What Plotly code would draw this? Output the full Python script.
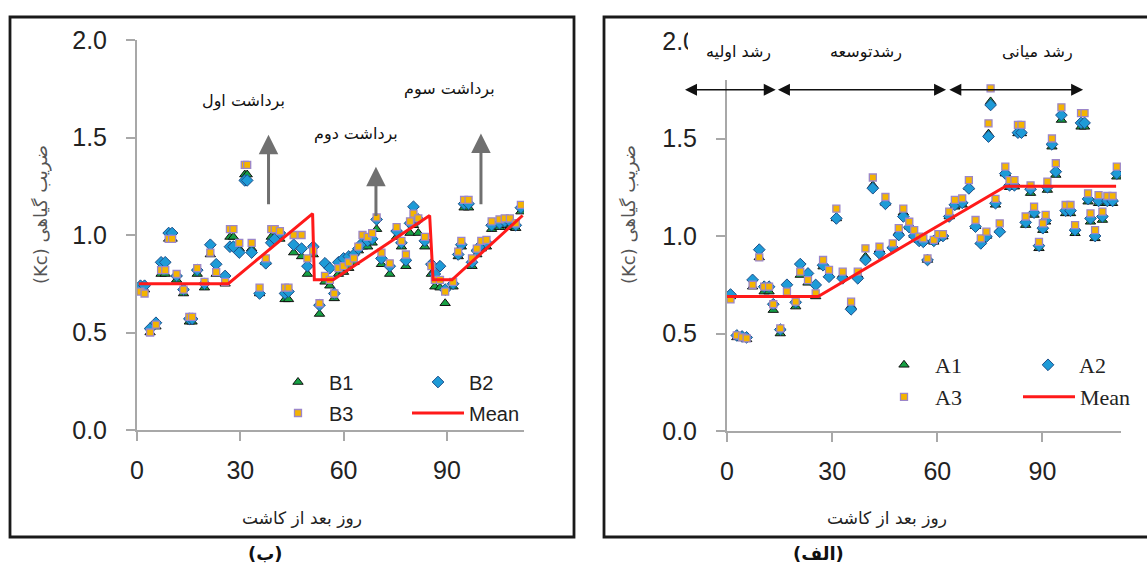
import plotly.graph_objects as go

W, H = 1147, 570


def px(x):
    return x / W


def py(y):
    return 1 - y / H


# ---------------- Left panel (ب) ----------------
left_days = [1, 2.2, 3.8, 5.5, 7, 8.2, 9.2, 10.2, 11.5, 13.5, 15.2, 16, 17.5, 19.6, 21.3, 23, 25.6,
             27, 28, 29.7, 31.3, 32, 33.3, 35.6, 37.4, 39, 40, 41.5, 43, 44, 45.5, 47.8, 49.5, 51.2,
             53, 54.6, 56, 57.3, 58.5, 60, 61.5, 63, 64.3, 65.5, 67, 68.3, 69.6, 71, 73.4, 75.4,
             76.8, 78.1, 79.3, 80.3, 81.7, 83.6, 85.5, 86.5, 88, 89.5, 91.8, 93.3, 94.2, 95, 96.3,
             97.3, 98.7, 100, 101.5, 103, 105.3, 106.8, 108.3, 110, 111.5]
b1 = [0.72, 0.72, 0.50, 0.53, 0.80, 0.80, 0.98, 0.98, 0.77, 0.70, 0.555, 0.555, 0.80, 0.73, 0.90, 0.80, 0.75,
      0.99, 0.99, 0.93, 1.31, 1.31, 0.93, 0.70, 0.86, 0.99, 0.99, 0.98, 0.67, 0.67, 0.91, 0.89, 0.80, 0.90,
      0.595, 0.76, 0.74, 0.675, 0.80, 0.81, 0.83, 0.86, 0.92, 0.94, 0.94, 0.96, 1.03, 0.85, 0.80, 0.99,
      0.94, 0.84, 1.01, 1.05, 1.01, 0.94, 0.80, 0.735, 0.73, 0.65, 0.735, 0.89, 0.94, 1.14, 1.14,
      0.84, 0.90, 0.93, 0.94, 1.03, 1.04, 1.05, 1.04, 1.035, 1.12]
b2 = [0.74, 0.74, 0.52, 0.55, 0.86, 0.86, 1.01, 1.01, 0.79, 0.72, 0.57, 0.57, 0.82, 0.75, 0.95, 0.85, 0.79,
      0.94, 0.94, 0.91, 1.28, 1.28, 0.91, 0.70, 0.855, 0.96, 0.98, 1.01, 0.70, 0.71, 0.95, 0.93, 0.84, 0.94,
      0.64, 0.855, 0.83, 0.70, 0.86, 0.88, 0.89, 0.90, 0.93, 0.96, 0.97, 0.98, 1.08, 0.88, 0.84, 1.02,
      0.96, 0.87, 1.06, 1.145, 1.08, 0.97, 0.85, 0.80, 0.84, 0.72, 0.75, 0.90, 0.95, 1.16, 1.16,
      0.86, 0.92, 0.95, 0.96, 1.05, 1.06, 1.07, 1.07, 1.05, 1.14]
b3 = [0.71, 0.70, 0.50, 0.54, 0.82, 0.82, 0.98, 0.98, 0.80, 0.72, 0.58, 0.58, 0.83, 0.76, 0.91, 0.81, 0.76,
      1.03, 1.03, 0.96, 1.36, 1.36, 0.96, 0.73, 0.88, 1.03, 1.03, 1.02, 0.73, 0.73, 1.00, 1.00, 0.88, 0.92,
      0.65, 0.79, 0.77, 0.70, 0.83, 0.84, 0.86, 0.88, 0.94, 1.00, 0.99, 1.01, 1.09, 0.91, 0.855, 1.04,
      0.97, 0.90, 1.07, 1.11, 1.085, 0.99, 0.84, 0.77, 0.77, 0.71, 0.76, 0.915, 0.97, 1.18, 1.18,
      0.88, 0.93, 0.97, 0.975, 1.07, 1.08, 1.085, 1.085, 1.06, 1.155]
mean_left_days = [0.5, 26.5, 51, 51.5, 57, 85, 86, 91.5, 112]
mean_left = [0.75, 0.75, 1.11, 0.77, 0.77, 1.10, 0.77, 0.77, 1.10]

# ---------------- Right panel (الف) ----------------
right_days = [1, 2.8, 4.3, 5.6, 7.3, 9.2, 10.6, 12, 13.2, 15.2, 17.1, 19.6, 20.9, 23.1, 25.3, 27.4, 29.1,
              31.2, 33, 35.4, 37.3, 39.5, 41.6, 43.5, 45.2, 47.3, 49, 50.3, 52, 53.4, 54.8, 56, 57.2,
              59, 60.3, 61.6, 63.4, 65, 67.1, 69, 70.9, 72.4, 74, 74.6, 75.2, 76.6, 77.8, 79.4, 80.6,
              82, 83, 84, 85.2, 86.6, 87.6, 89, 90.1, 90.9, 91.4, 92.7, 93.8, 95.4, 96.6, 98, 99.3,
              101, 102, 103, 103.7, 105, 106, 107.1, 108.5, 110, 111.2]
a1 = [0.69, 0.48, 0.475, 0.47, 0.74, 0.89, 0.715, 0.715, 0.62, 0.50, 0.697, 0.638, 0.80, 0.76, 0.69, 0.843, 0.80,
      1.09, 0.80, 0.64, 0.80, 0.894, 1.26, 0.93, 1.17, 0.95, 1.02, 1.12, 1.048, 1.005, 0.98, 0.975, 0.877,
      0.97, 0.99, 0.997, 1.10, 1.15, 1.16, 1.25, 1.05, 0.97, 1.0, 1.525, 1.69, 1.16, 1.03, 1.32, 1.25,
      1.253, 1.526, 1.526, 1.056, 1.22, 1.108, 0.937, 1.03, 1.073, 1.236, 1.458, 1.313, 1.595, 1.116, 1.116, 1.014,
      1.56, 1.56, 1.176, 1.073, 0.988, 1.168, 1.082, 1.168, 1.168, 1.304]
a2 = [0.70, 0.49, 0.485, 0.48, 0.775, 0.93, 0.74, 0.74, 0.65, 0.52, 0.75, 0.66, 0.856, 0.808, 0.749, 0.85, 0.791,
      1.09, 0.783, 0.624, 0.783, 0.877, 1.245, 0.911, 1.165, 0.94, 1.005, 1.10, 1.045, 1.0, 0.975, 0.97, 0.877,
      0.975, 0.995, 1.0, 1.10, 1.16, 1.17, 1.244, 1.048, 0.962, 0.997, 1.51, 1.672, 1.168, 1.022, 1.32, 1.26,
      1.26, 1.53, 1.53, 1.07, 1.24, 1.12, 0.95, 1.04, 1.08, 1.25, 1.47, 1.33, 1.62, 1.13, 1.13, 1.03,
      1.58, 1.58, 1.19, 1.09, 1.0, 1.18, 1.1, 1.18, 1.18, 1.32]
a3 = [0.675, 0.49, 0.48, 0.475, 0.75, 0.89, 0.74, 0.74, 0.65, 0.526, 0.715, 0.663, 0.817, 0.774, 0.706, 0.877, 0.826,
      1.14, 0.817, 0.663, 0.817, 0.937, 1.30, 0.945, 1.20, 0.962, 1.04, 1.14, 1.073, 1.03, 0.997, 0.988, 0.885,
      0.98, 1.01, 1.01, 1.125, 1.185, 1.193, 1.287, 1.082, 0.988, 1.022, 1.578, 1.757, 1.19, 1.065, 1.356, 1.287,
      1.287, 1.57, 1.57, 1.10, 1.26, 1.15, 0.97, 1.065, 1.108, 1.279, 1.50, 1.373, 1.66, 1.159, 1.159, 1.056,
      1.63, 1.63, 1.219, 1.116, 1.03, 1.21, 1.125, 1.205, 1.205, 1.356]
mean_right_days = [0, 26, 52, 79.5, 111]
mean_right = [0.69, 0.69, 0.965, 1.255, 1.255]

x_ticks = [0, 30, 60, 90]
y_ticks = [0, 0.5, 1.0, 1.5, 2.0]

TRI = dict(symbol="triangle-up", size=9, color="#16a043", line=dict(color="#111111", width=1))
DIA = dict(symbol="diamond", size=9, color="#1e9bd7", line=dict(color="#1d4e89", width=1))
SQR = dict(symbol="square", size=7, color="#f4b400", line=dict(color="#9c86c9", width=1.3))
MEAN = dict(color="#ff1a1a", width=3)

fig = go.Figure()
fig.add_trace(go.Scatter(x=left_days, y=b1, mode="markers", marker=TRI, name="B1",
                         xaxis="x", yaxis="y", legend="legend"))
fig.add_trace(go.Scatter(x=left_days, y=b2, mode="markers", marker=DIA, name="B2",
                         xaxis="x", yaxis="y", legend="legend2"))
fig.add_trace(go.Scatter(x=left_days, y=b3, mode="markers", marker=SQR, name="B3",
                         xaxis="x", yaxis="y", legend="legend3"))
fig.add_trace(go.Scatter(x=mean_left_days, y=mean_left, mode="lines", line=MEAN, name="Mean",
                         xaxis="x", yaxis="y", legend="legend4"))

fig.add_trace(go.Scatter(x=right_days, y=a1, mode="markers", marker=TRI, name="A1",
                         xaxis="x2", yaxis="y2", legend="legend5"))
fig.add_trace(go.Scatter(x=right_days, y=a2, mode="markers", marker=DIA, name="A2",
                         xaxis="x2", yaxis="y2", legend="legend6"))
fig.add_trace(go.Scatter(x=right_days, y=a3, mode="markers", marker=SQR, name="A3",
                         xaxis="x2", yaxis="y2", legend="legend7"))
fig.add_trace(go.Scatter(x=mean_right_days, y=mean_right, mode="lines", line=MEAN, name="Mean",
                         xaxis="x2", yaxis="y2", legend="legend8"))

axis_common = dict(showline=True, linecolor="#a8a8a8", linewidth=2, ticks="outside", ticklen=9,
                   tickwidth=2, tickcolor="#a8a8a8", showgrid=False, zeroline=False,
                   tickfont=dict(family="Liberation Sans", size=25, color="#222222"))

fig.update_layout(
    width=W, height=H, autosize=False, showlegend=True,
    margin=dict(l=0, r=0, t=0, b=0, autoexpand=False),
    paper_bgcolor="white", plot_bgcolor="white",
    xaxis=dict(domain=[px(137), px(524)], range=[0, 112.4], tickvals=x_ticks, anchor="y",
               ticklabelstandoff=8, **axis_common),
    yaxis=dict(domain=[py(430), py(40)], range=[0, 2], tickvals=y_ticks, tickformat=".1f",
               anchor="x", ticklabelstandoff=14, **axis_common),
    xaxis2=dict(domain=[px(727), px(1121)], range=[0, 112.4], tickvals=x_ticks, anchor="y2",
                ticklabelstandoff=8, **axis_common),
    yaxis2=dict(domain=[py(431), py(41)], range=[0, 2], tickvals=y_ticks, tickformat=".1f",
                anchor="x2", ticklabelstandoff=14, **axis_common),
)

sans_leg = dict(family="Liberation Sans", size=20, color="#222222")
serif_leg = dict(family="Liberation Serif", size=22, color="#222222")


def leg(xl, yc, font):
    return dict(x=px(xl), y=py(yc), xanchor="left", yanchor="middle", itemwidth=52,
                font=font, bgcolor="rgba(0,0,0,0)", borderwidth=0, visible=True)


fig.update_layout(
    legend=leg(267, 382, sans_leg),
    legend2=leg(407, 382, sans_leg),
    legend3=leg(267, 413, sans_leg),
    legend4=leg(407, 413, sans_leg),
    legend5=leg(873, 365, serif_leg),
    legend6=leg(1017, 365, serif_leg),
    legend7=leg(873, 397, serif_leg),
    legend8=leg(1018, 397, serif_leg),
)

# frames and a white patch that hides the top of the right y axis
fig.add_shape(type="rect", xref="paper", yref="paper", x0=px(10), x1=px(574), y0=py(537), y1=py(17),
              line=dict(color="#1a1a1a", width=2.8), fillcolor="rgba(0,0,0,0)", layer="below")
fig.add_shape(type="rect", xref="paper", yref="paper", x0=px(604), x1=px(1160), y0=py(537), y1=py(17),
              line=dict(color="#1a1a1a", width=2.8), fillcolor="rgba(0,0,0,0)", layer="below")
fig.add_shape(type="rect", xref="paper", yref="paper", x0=px(688), x1=px(800), y0=py(80), y1=py(25),
              line=dict(width=0), fillcolor="white", layer="above")

AR = "DejaVu Sans"
C = dict(xanchor="center", yanchor="middle", showarrow=False)
ann = []
# left panel harvest labels and arrows
for t, xx, yy in [("برداشت اول", 31, 1.686), ("برداشت دوم", 63.5, 1.52), ("برداشت سوم", 90.8, 1.75)]:
    ann.append(dict(text=t, x=xx, y=yy, xref="x", yref="y",
                    font=dict(family=AR, size=16, color="#111111"), **C))
for xx, y0, y1 in [(38.2, 1.15, 1.514), (69.4, 1.09, 1.35), (99.9, 1.15, 1.52)]:
    ann.append(dict(text="", x=xx, y=y1, ax=xx, ay=y0, xref="x", yref="y", axref="x", ayref="y",
                    showarrow=True, arrowhead=2, arrowsize=1.3, arrowwidth=3, arrowcolor="#707070",
                    standoff=0, startstandoff=0))
# right panel growth stages
for t, xx in [("رشد اولیه", 3.3), ("رشدتوسعه", 39.7), ("رشد میانی", 88.7)]:
    ann.append(dict(text=t, x=xx, y=1.944, xref="x2", yref="y2",
                    font=dict(family=AR, size=16, color="#111111"), **C))
for x0, x1 in [(-12.4, 13.9), (14.1, 62.5), (63.0, 101.6)]:
    ann.append(dict(text="", x=x1, y=1.75, ax=x0, ay=1.75, xref="x2", yref="y2", axref="x2", ayref="y2",
                    showarrow=True, arrowhead=2, arrowside="end+start", arrowsize=1.6, arrowwidth=1.5,
                    arrowcolor="#111111", standoff=0, startstandoff=0))
# axis titles and panel labels
for xc in (302, 887):
    ann.append(dict(text="روز بعد از کاشت", x=px(xc), y=py(518), xref="paper", yref="paper",
                    font=dict(family=AR, size=17, color="#222222"), **C))
for xc in (41, 629):
    ann.append(dict(text="(Kc) ضریب گیاهی", x=px(xc), y=py(215), xref="paper", yref="paper",
                    textangle=-90, font=dict(family=AR, size=18, color="#555555"), **C))
ann.append(dict(text="<b>(ب)</b>", x=px(265), y=py(553), xref="paper", yref="paper",
                font=dict(family=AR, size=18, color="#111111"), **C))
ann.append(dict(text="<b>(الف)</b>", x=px(818), y=py(553), xref="paper", yref="paper",
                font=dict(family=AR, size=18, color="#111111"), **C))
fig.update_layout(annotations=ann)

fig.write_html("out.html")
